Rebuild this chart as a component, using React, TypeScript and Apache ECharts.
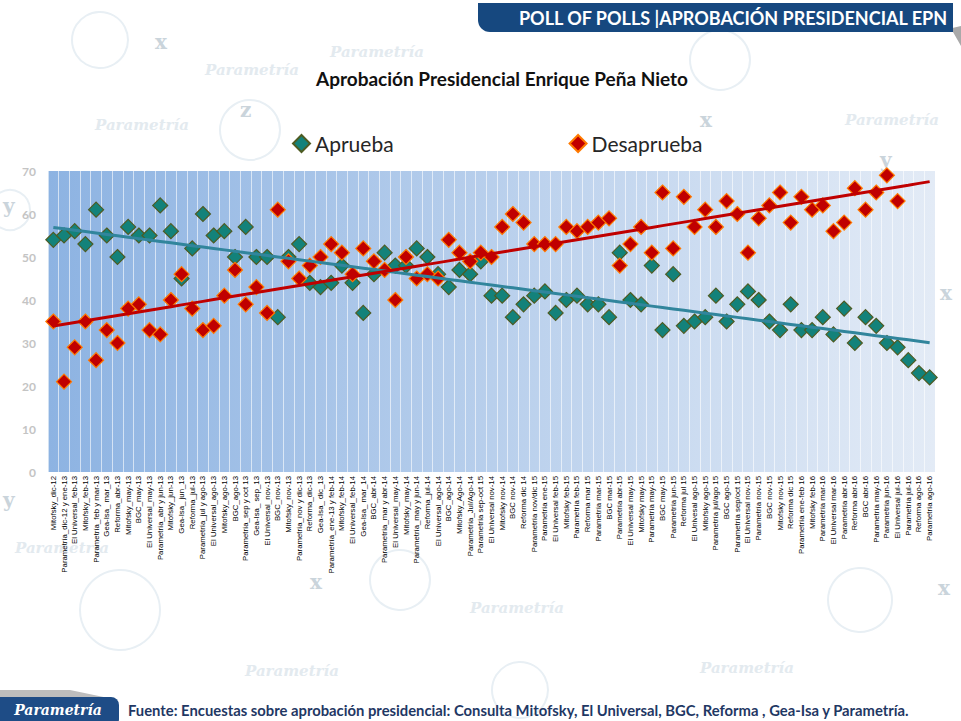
import React, { useEffect, useRef } from "react";
import * as echarts from "echarts";

const categories: string[] = [
  "Mitofsky_dic-12", "Parametría_dic-12 y ene-13", "El Universal_feb-13", "Mitofsky_feb-13",
  "Parametría_feb y mar-13", "Gea-Isa_ mar_13", "Reforma_abr-13", "Mitofsky_may-13", "BGC_may-13",
  "El Universal_may-13", "Parametría_abr y jun-13", "Mitofsky_jun-13", "Gea-Isa_ jun_13", "Reforma_jul-13",
  "Parametría_jul y ago-13", "El Universal_ago-13", "Mitofsky_ago-13", "BGC_ago-13", "Parametría_sep y oct 13",
  "Gea-Isa_ sep_13", "El Universal_nov-13", "BGC_nov-13", "Mitofsky_nov-13", "Parametría_nov y dic-13",
  "Reforma_dic-13", "Gea-Isa_ dic_13", "Parametría_ene-13 y feb-14", "Mitofsky_feb-14", "El Universal_feb-14",
  "Gea-Isa_ mar_14", "BGC_abr-14", "Parametría_mar y abr-14", "El Universal_may-14", "Mitofsky_may-14",
  "Parametría_may y jun-14", "Reforma_jul-14", "El Universal_ago-14", "BGC_ago-14", "Mitofsky_Ago-14",
  "Parametría_Jul/Ago-14", "Parametría sep-oct 15", "El Universal nov-14", "Mitofsky nov-14", "BGC nov-14",
  "Reforma dic 14", "Parametría nov/dic 15", "Parametría ene-15", "El Universal feb-15", "Mitofsky feb-15",
  "Parametría feb-15", "Reforma mar 15", "Parametría mar-15", "BGC mar-15", "Parametría abr-15",
  "El Universal may-15", "Mitofsky may-15", "Parametría may-15", "BGC may-15", "Parametría jun-15",
  "Reforma jul 15", "El Univesal ago-15", "Mitofsky ago-15", "Parametría jul/ago 15", "BGC ago-15",
  "Parametría sep/oct 15", "El Universal nov-15", "Parametría nov-15", "BGC nov-15", "Mitofsky nov-15",
  "Reforma dic 15", "Parametría ene-feb 16", "Mitofsky feb-16", "Parametría mar-16", "El Universal mar-16",
  "Parametría abr-16", "Reforma abr-16", "BGC abr-16", "Parametría may-16", "Parametría jun-16",
  "El Universal jul-16", "Parametría jul-16", "Reforma ago-16", "Parametría ago-16",
];

const aprueba: (number | null)[] = [
  54, 55, 56, 53, 61, 55, 50, 57, 55, 55,
  62, 56, 45, 52, 60, 55, 56, 50, 57, 50,
  50, 36, 50, 53, 44, 43, 44, 48, 44, 37,
  46, 51, 48, 48, 52, 50, 46, 43, 47, 46,
  49, 41, 41, 36, 39, 41, 42, 37, 40, 41,
  39, 39, 36, 51, 40, 39, 48, 33, 46, 34,
  35, 36, 41, 35, 39, 42, 40, 35, 33, 39,
  33, 33, 36, 32, 38, 30, 36, 34, 30, 29,
  26, 23, 22,
];

const desaprueba: (number | null)[] = [
  35, 21, 29, 35, 26, 33, 30, 38, 39, 33,
  32, 40, 46, 38, 33, 34, 41, 47, 39, 43,
  37, 61, 49, 45, 48, 50, 53, 51, 46, 52,
  49, 47, 40, 50, 45, 46, 45, 54, 51, 49,
  51, 50, 57, 60, 58, 53, 53, 53, 57, 56,
  57, 58, 59, 48, 53, 57, 51, 65, 52, 64,
  57, 61, 57, 63, 60, 51, 59, 62, 65, 58,
  64, 61, 62, 56, 58, 66, 61, 65, 69, 63,
  null, null, null,
];

const yTicks = { min: 0, max: 70, interval: 10 };

function trend(values: (number | null)[]): number[] {
  let n = 0, sx = 0, sy = 0, sxx = 0, sxy = 0;
  values.forEach((v, i) => {
    if (v == null) return;
    n++; sx += i; sy += v; sxx += i * i; sxy += i * v;
  });
  const b = (n * sxy - sx * sy) / (n * sxx - sx * sx);
  const a = (sy - b * sx) / n;
  return categories.map((_, i) => +(a + b * i).toFixed(3));
}

const watermarkTexts = [
  { x: 205, y: 62 }, { x: 330, y: 44 }, { x: 95, y: 117 }, { x: 845, y: 112 },
  { x: 15, y: 540 }, { x: 245, y: 663 }, { x: 470, y: 600 }, { x: 700, y: 660 },
];
const watermarkLetters = [
  { t: "y", x: 3, y: 196 }, { t: "x", x: 940, y: 283 }, { t: "y", x: 3, y: 490 },
  { t: "x", x: 938, y: 578 }, { t: "z", x: 240, y: 100 }, { t: "x", x: 155, y: 32 },
  { t: "x", x: 700, y: 110 }, { t: "y", x: 880, y: 150 }, { t: "x", x: 310, y: 572 },
];
const watermarkCircles = [
  { cx: 100, cy: 40, r: 28 }, { cx: 250, cy: 130, r: 30 }, { cx: 720, cy: 60, r: 30 },
  { cx: 400, cy: 580, r: 30 }, { cx: 120, cy: 610, r: 40 }, { cx: 860, cy: 600, r: 32 },
  { cx: 520, cy: 690, r: 28 }, { cx: 10, cy: 210, r: 20 },
];

export default function App() {
  const ref = useRef<HTMLDivElement>(null);
  useEffect(() => {
    if (!ref.current) return;
    const chart = echarts.init(ref.current, undefined, { renderer: "svg" });
    const wm: any[] = [];
    watermarkCircles.forEach((c) =>
      wm.push({ type: "circle", z: -10, shape: c, style: { fill: "none", stroke: "#E8EFF4", lineWidth: 2 } })
    );
    watermarkTexts.forEach((p) =>
      wm.push({
        type: "text", z: -10, x: p.x, y: p.y,
        style: { text: "Parametría", fill: "#E3EAEF", fontSize: 15, fontStyle: "italic", fontWeight: "bold", fontFamily: "DejaVu Serif" },
      })
    );
    watermarkLetters.forEach((p) =>
      wm.push({
        type: "text", z: -10, x: p.x, y: p.y,
        style: { text: p.t, fill: "#CAD4DB", fontSize: 20, fontWeight: "bold", fontFamily: "DejaVu Serif" },
      })
    );

    chart.setOption({
      animation: false,
      backgroundColor: "#ffffff",
      graphic: [
        ...wm,
        { type: "rect", z: 10, shape: { x: 478, y: 3, width: 475, height: 29, r: [0, 0, 0, 12] }, style: { fill: "#16487F" } },
        { type: "polygon", z: 9, shape: { points: [[935, 32], [953, 32], [961, 46], [961, 26]] }, style: { fill: "#A9A9A9" } },
        {
          type: "text", z: 11, x: 733, y: 18,
          style: { text: "POLL OF POLLS |APROBACIÓN PRESIDENCIAL EPN", fill: "#ffffff", fontSize: 18, fontWeight: "bold", fontFamily: "Lato", align: "center", verticalAlign: "middle" },
        },
        {
          type: "text", z: 11, x: 502, y: 78,
          style: { text: "Aprobación Presidencial Enrique Peña Nieto", fill: "#111111", fontSize: 19, fontWeight: "bold", fontFamily: "Lato", align: "center", verticalAlign: "middle" },
        },
        { type: "polygon", z: 9, shape: { points: [[0, 690], [70, 690], [118, 700], [0, 700]] }, style: { fill: "#BDBDBD" } },
        { type: "rect", z: 10, shape: { x: -12, y: 697, width: 131, height: 30, r: 8 }, style: { fill: "#1E4C86" } },
        {
          type: "text", z: 11, x: 58, y: 710,
          style: { text: "Parametría", fill: "#ffffff", fontSize: 14, fontStyle: "italic", fontWeight: "bold", fontFamily: "DejaVu Serif", align: "center", verticalAlign: "middle" },
        },
        {
          type: "text", z: 11, x: 128, y: 710,
          style: { text: "Fuente: Encuestas sobre aprobación presidencial: Consulta Mitofsky, El Universal, BGC, Reforma , Gea-Isa y Parametría.", fill: "#1F3864", fontSize: 14.8, fontWeight: "bold", fontFamily: "Lato", align: "left", verticalAlign: "middle" },
        },
      ],
      legend: {
        data: ["Aprueba", "Desaprueba"],
        left: 287,
        top: 128,
        itemWidth: 17,
        itemHeight: 17,
        itemGap: 175,
        textStyle: { fontSize: 21, fontFamily: "Lato", color: "#262626" },
      },
      grid: {
        left: 48, right: 26, top: 171, bottom: 249,
        show: true, borderWidth: 0,
        backgroundColor: new echarts.graphic.LinearGradient(0, 0, 1, 0, [
          { offset: 0, color: "#8DB3E2" },
          { offset: 1, color: "#E3EBF6" },
        ]),
      },
      xAxis: {
        type: "category",
        data: categories,
        boundaryGap: true,
        axisLine: { show: false },
        axisTick: { show: false },
        splitLine: { show: true, interval: 0, lineStyle: { color: "rgba(255,255,255,0.6)", width: 1 } },
        axisLabel: { interval: 0, rotate: 90, fontSize: 7.8, fontFamily: "Liberation Sans", color: "#000000", margin: 4 },
      },
      yAxis: {
        type: "value",
        min: yTicks.min, max: yTicks.max, interval: yTicks.interval,
        axisLine: { show: false },
        axisTick: { show: false },
        splitLine: { show: false },
        axisLabel: { fontSize: 12, fontWeight: "bold", fontFamily: "Lato", color: "#C4C4C4", margin: 12 },
      },
      series: [
        {
          name: "Aprueba", type: "scatter", data: aprueba, symbol: "diamond", symbolSize: 15, z: 2,
          itemStyle: { color: "#13827A", borderColor: "#4E5B22", borderWidth: 1.2, opacity: 1 },
        },
        {
          name: "Desaprueba", type: "scatter", data: desaprueba, symbol: "diamond", symbolSize: 15, z: 3,
          itemStyle: { color: "#C00000", borderColor: "#FF7A00", borderWidth: 1.2, opacity: 1 },
        },
        {
          name: "Tendencia Aprueba", type: "line", data: trend(aprueba), showSymbol: false, symbol: "none", z: 4,
          lineStyle: { color: "#31859C", width: 3 },
        },
        {
          name: "Tendencia Desaprueba", type: "line", data: trend(desaprueba), showSymbol: false, symbol: "none", z: 4,
          lineStyle: { color: "#C00000", width: 3 },
        },
      ],
    });
    return () => chart.dispose();
  }, []);
  return (
    <div
      ref={ref}
      style={{ position: "fixed", left: 0, top: 0, width: 961, height: 721, background: "#fff" }}
    />
  );
}
